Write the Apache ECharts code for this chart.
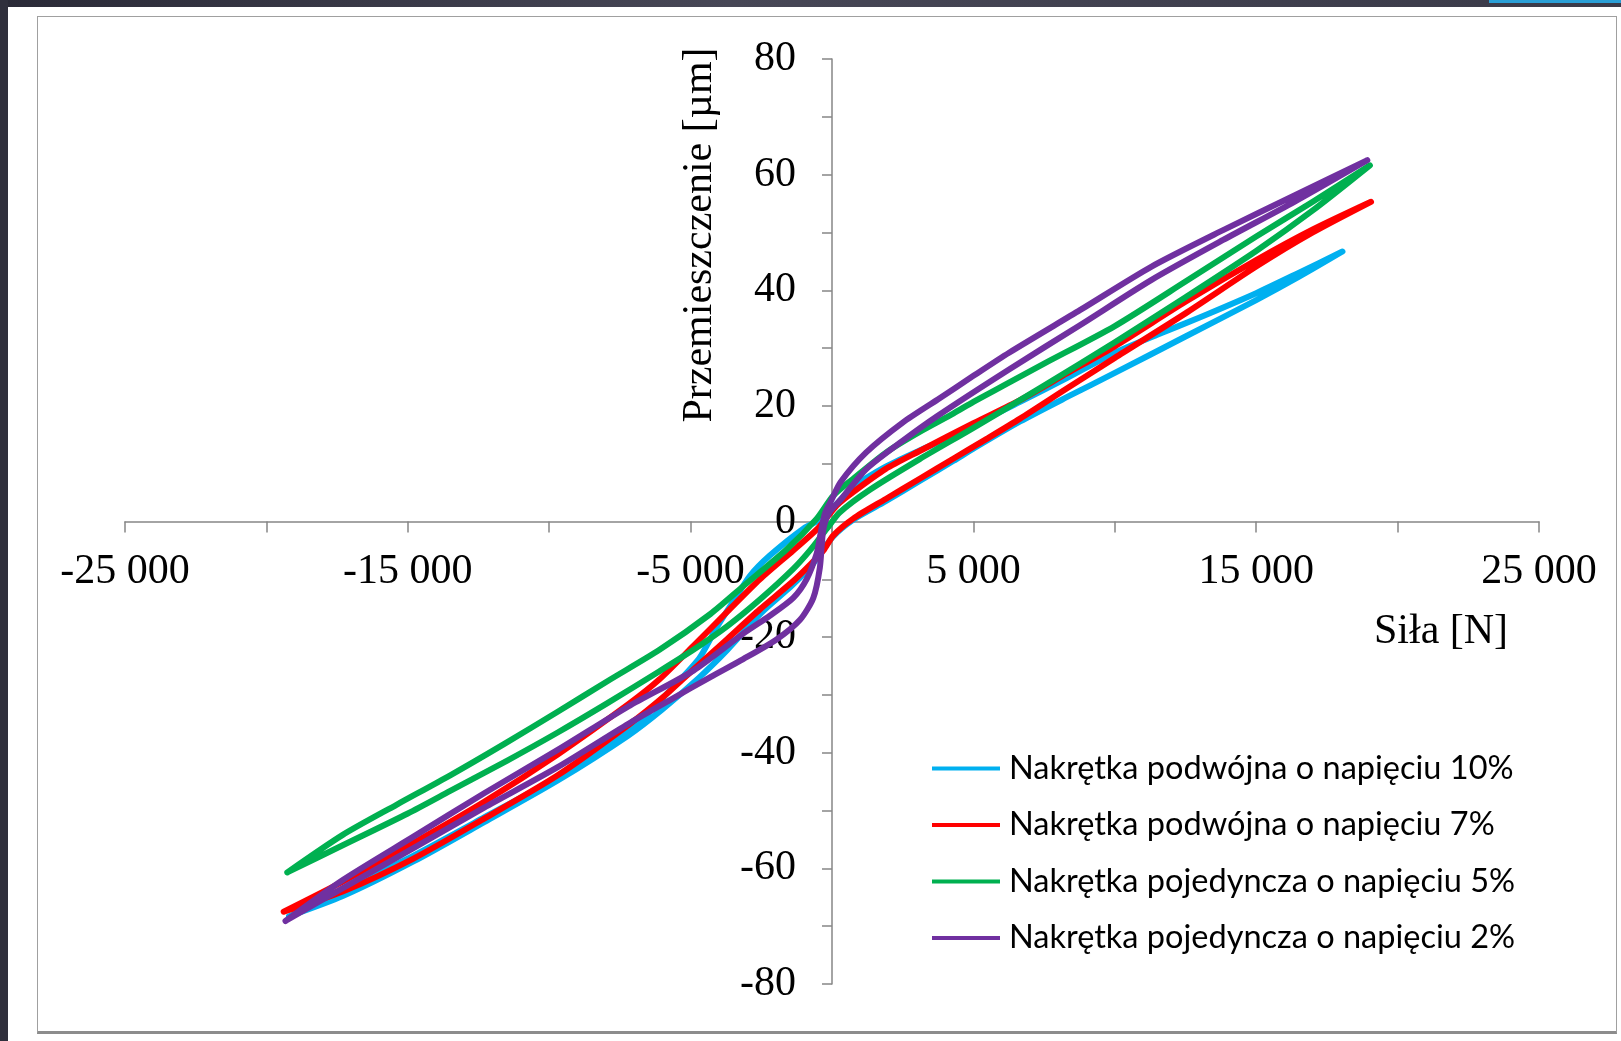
<!DOCTYPE html>
<html>
<head>
<meta charset="utf-8">
<script src="https://cdn.jsdelivr.net/npm/echarts@6/dist/echarts.min.js"></script>
<style>
html,body{margin:0;padding:0;background:#fff;width:1621px;height:1041px;overflow:hidden;}
#topbar{position:absolute;left:0;top:0;width:1621px;height:7px;background:linear-gradient(90deg,#2a2a37 0%,#474756 45%,#3a3a48 100%);}
#leftbar{position:absolute;left:0;top:0;width:8px;height:1041px;background:#2f2f3c;}
#bluebar{position:absolute;left:1489px;top:0;width:132px;height:3px;background:#2a9fd6;}
#frame{position:absolute;left:37px;top:16px;width:1578px;height:1014px;border:1.5px solid #a0a0a0;border-bottom:3px solid #8c8c8c;box-sizing:content-box;}
#chart{position:absolute;left:0;top:0;width:1621px;height:1041px;}
</style>
</head>
<body>
<div id="topbar"></div>
<div id="leftbar"></div>
<div id="bluebar"></div>
<div id="frame"></div>
<div id="chart"></div>
<script>
// ---- data (force [N], displacement [µm]) ----
const seriesNames = [
  'Nakrętka podwójna o napięciu 10%',
  'Nakrętka podwójna o napięciu 7%',
  'Nakrętka pojedyncza o napięciu 5%',
  'Nakrętka pojedyncza o napięciu 2%'
];
const seriesColors = ['#00B0F0', '#FF0000', '#00B050', '#7030A0'];

const xTicksMin = -25000, xTicksMax = 25000, xTickStep = 5000;
const yTicksMin = -80, yTicksMax = 80, yTickStep = 10;

// 10% double nut
const blueLoading = [[-19200,-68.3],[-17300,-64.8],[-14800,-58.8],[-12300,-52],[-9700,-44.8],[-7200,-37],[-6000,-32.5],[-4700,-27],[-3700,-22.2],[-2500,-15.8],[-1400,-11],[-700,-7.5],[0,-2.8],[750,0.3],[1900,3.5],[3100,7],[4300,10.5],[5000,12.6],[6650,17.3],[8300,21.5],[10000,25.7],[12500,32],[15000,38.3],[16500,42.3],[18050,46.7]];
const blueUnloading = [[18050,46.7],[16500,43],[15000,39.5],[13000,35.3],[11500,32.3],[10000,29.2],[8300,24.8],[6650,20.7],[4300,14.9],[3100,12.3],[1900,9.5],[750,6],[250,3.5],[-400,0.4],[-1000,-1.2],[-2200,-5.9],[-2900,-9.4],[-3450,-13.5],[-4100,-18.5],[-4700,-23.7],[-6000,-30.6],[-7200,-36.4],[-9700,-44.2],[-12300,-51.2],[-14800,-57.8],[-17300,-63.8],[-19200,-68.3]];

// 7% double nut
const redLoading = [[-19388,-67.5],[-17300,-64],[-14800,-58.3],[-12300,-51.4],[-9700,-43.9],[-7200,-35.2],[-6000,-30.5],[-4900,-25.6],[-3700,-20.3],[-2550,-15.2],[-1370,-10.3],[-780,-7.5],[-300,-5],[50,-2.4],[750,0.5],[1900,3.9],[3100,7.4],[4300,10.9],[5470,14.3],[6650,17.8],[8300,23],[10000,28.3],[12500,36],[15000,44.1],[17000,50],[19060,55.3]];
const redUnloading = [[19060,55.3],[17000,50.5],[15000,45.2],[12500,38],[10000,30.3],[8300,25.6],[6650,21],[5000,17],[3100,12.2],[1900,9.1],[750,5.1],[170,2.8],[-500,-1.2],[-1370,-5],[-2550,-10],[-3700,-15.6],[-4900,-21.5],[-6100,-27.3],[-7200,-31.6],[-9700,-40.3],[-12300,-48.5],[-14800,-55.6],[-17300,-62.3],[-19388,-67.5]];

// 5% single nut
const greenLoading = [[-19262,-60.7],[-17300,-56],[-15000,-50.5],[-13500,-46.6],[-11500,-41.4],[-9700,-36.5],[-8000,-31.6],[-6100,-25.9],[-4900,-22.2],[-3700,-18.1],[-2550,-13.5],[-1370,-8.2],[-780,-5],[-190,-1.3],[280,1.6],[1340,5.5],[3100,10.8],[5000,16.2],[7500,23.5],[10000,31],[12500,38.8],[15000,46.8],[17000,53.8],[19020,61.6]];
const greenUnloading = [[19020,61.6],[17000,55.3],[15000,49.3],[12500,41.5],[10000,33.8],[7500,27.3],[6060,23.5],[5000,20.7],[4300,18.7],[3100,15.5],[1930,12],[750,7.4],[50,4.5],[-540,0.5],[-1600,-4.8],[-3140,-11.2],[-4300,-16],[-6100,-22.2],[-7900,-27.5],[-9700,-32.9],[-11600,-38.5],[-13500,-43.9],[-15400,-49],[-17300,-54.2],[-19262,-60.7]];

// 2% single nut
const purpleLoading = [[-19325,-69.1],[-17300,-63.4],[-14800,-56.5],[-12300,-49.5],[-9700,-42.5],[-7200,-35],[-5700,-30.8],[-4300,-26.9],[-3140,-23.8],[-1960,-20.4],[-1130,-17],[-660,-13.2],[-430,-8],[-310,-1.5],[-100,1.5],[330,3.9],[1220,9.1],[2480,13.9],[3740,18.3],[6260,26.3],[8780,34],[11300,41.8],[13830,48.7],[16350,55.3],[18930,62.5]];
const purpleUnloading = [[18930,62.5],[16350,56.4],[13830,50.4],[11300,44.1],[8780,36.6],[6260,29.2],[5000,25.2],[3740,21.1],[2500,17.1],[1200,11.9],[300,6.8],[0,3.9],[-250,1.4],[-420,-2.5],[-540,-5.5],[-900,-10],[-1370,-13.2],[-2200,-16.3],[-3140,-19.4],[-4900,-25.8],[-7200,-32],[-9700,-39.5],[-12300,-47],[-14800,-54.5],[-17300,-62],[-19325,-69.1]];

const loops = [
  blueLoading.concat(blueUnloading),
  redLoading.concat(redUnloading),
  greenLoading.concat(greenUnloading),
  purpleLoading.concat(purpleUnloading)
];

function fmtThousands(v) {
  const s = Math.abs(v).toString().replace(/\B(?=(\d{3})+(?!\d))/g, ' ');
  return (v < 0 ? '-' : '') + s;
}

const serif = 'Liberation Serif';
const axisColor = '#868686';
const gridLeft = 125, gridRight = 82, gridTop = 59, gridBottom = 57;
const plotW = 1621 - gridLeft - gridRight, plotH = 1041 - gridTop - gridBottom;

const chart = echarts.init(document.getElementById('chart'), null, {renderer: 'canvas'});
chart.setOption({
  backgroundColor: 'transparent',
  animation: false,
  grid: {left: gridLeft, right: gridRight, top: gridTop, bottom: gridBottom, containLabel: false},
  xAxis: {
    type: 'value', min: xTicksMin, max: xTicksMax, interval: xTickStep,
    position: 'bottom',
    // move axis to y = 0
    offset: -plotH * (0 - yTicksMin) / (yTicksMax - yTicksMin),
    axisLine: {show: true, onZero: false, lineStyle: {color: axisColor, width: 1.5}},
    axisTick: {show: true, length: 11, lineStyle: {color: axisColor, width: 1.5}},
    splitLine: {show: false},
    axisLabel: {
      margin: 29, color: '#000', fontFamily: serif, fontSize: 42,
      formatter: v => (v % 10000 === 0 ? '' : fmtThousands(v))
    }
  },
  yAxis: {
    type: 'value', min: yTicksMin, max: yTicksMax, interval: yTickStep,
    position: 'left',
    // move axis to x = 0
    offset: -plotW * (0 - xTicksMin) / (xTicksMax - xTicksMin),
    axisLine: {show: true, onZero: false, lineStyle: {color: axisColor, width: 1.5}},
    axisTick: {show: true, length: 10, lineStyle: {color: axisColor, width: 1.5}},
    splitLine: {show: false},
    axisLabel: {
      margin: 36, color: '#000', fontFamily: serif, fontSize: 42,
      formatter: v => (v % 20 === 0 ? String(v) : '')
    }
  },
  legend: {
    orient: 'vertical', left: 927, top: 747,
    icon: 'rect', itemWidth: 68, itemHeight: 4, itemGap: 23.5,
    data: seriesNames,
    textStyle: {fontFamily: 'Lato', fontSize: 32.5, color: '#000', lineHeight: 32, padding: [0, 0, 0, 4]}
  },
  graphic: [
    {type: 'text', x: 700, y: 235, rotation: Math.PI / 2,
     style: {text: 'Przemieszczenie [µm]', fontFamily: serif, fontSize: 42, fill: '#000', align: 'center', verticalAlign: 'middle'}},
    {type: 'text', x: 1441, y: 632,
     style: {text: 'Siła [N]', fontFamily: serif, fontSize: 42, fill: '#000', align: 'center', verticalAlign: 'middle'}}
  ],
  series: loops.map((d, i) => ({
    name: seriesNames[i], type: 'line', data: d,
    symbol: 'none', showSymbol: false, smooth: 0.25,
    color: seriesColors[i],
    lineStyle: {color: seriesColors[i], width: 6, cap: 'round', join: 'round'},
    z: 2 + i
  }))
});
</script>
</body>
</html>
